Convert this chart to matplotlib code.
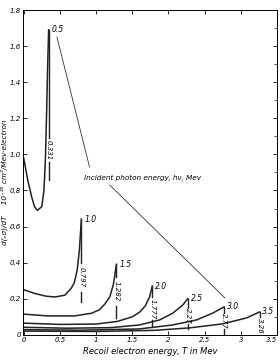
import numpy as np
from matplotlib import pyplot as plt

plt.rcParams['font.family'] = ['Liberation Sans Narrow', 'DejaVu Sans']
plt.rcParams['font.style'] = 'italic'

# 入射光子能量 (Mev)
energies = ['0.5', '1.0', '1.5', '2.0', '2.5', '3.0', '3.5']
tmax_labels = ['0.331', '0.797', '1.282', '1.777', '2.27', '2.77', '3.26']

# 各曲线
T05 = [0, 0.055, 0.11, 0.15, 0.19, 0.25, 0.28, 0.30, 0.318, 0.33, 0.345]
Y05 = [0.98, 0.86, 0.765, 0.71, 0.69, 0.71, 0.80, 0.97, 1.25, 1.47, 1.69]
T10 = [0, 0.15, 0.3, 0.43, 0.57, 0.66, 0.70, 0.74, 0.77, 0.797]
Y10 = [0.25, 0.23, 0.215, 0.21, 0.22, 0.26, 0.29, 0.36, 0.47, 0.64]
T15 = [0, 0.33, 0.7, 0.94, 1.05, 1.12, 1.19, 1.24, 1.282]
Y15 = [0.115, 0.105, 0.105, 0.12, 0.14, 0.17, 0.21, 0.28, 0.39]
T20 = [0, 0.5, 1.0, 1.3, 1.5, 1.6, 1.68, 1.74, 1.777]
Y20 = [0.065, 0.058, 0.06, 0.075, 0.10, 0.125, 0.16, 0.21, 0.27]
T25 = [0, 0.6, 1.2, 1.6, 1.88, 2.06, 2.2, 2.267]
Y25 = [0.042, 0.037, 0.04, 0.055, 0.083, 0.12, 0.166, 0.20]
T30 = [0, 0.8, 1.6, 2.06, 2.39, 2.61, 2.77]
Y30 = [0.029, 0.026, 0.033, 0.055, 0.083, 0.12, 0.155]
T35 = [0, 1.0, 1.8, 2.3, 2.75, 3.08, 3.26]
Y35 = [0.021, 0.019, 0.025, 0.039, 0.061, 0.094, 0.127]

curves = [(T05, Y05), (T10, Y10), (T15, Y15), (T20, Y20),
          (T25, Y25), (T30, Y30), (T35, Y35)]

# 竖线: 断开处 (上端, 下端) 和底端
gap_top = [1.09, 0.40, 0.32, 0.21, 0.15, 0.12, 0.10]
gap_bot = [0.96, 0.24, 0.16, 0.08, 0.06, 0.03, 0.0]
line_end = [0.86, 0.18, 0.095, 0.045, 0.03, 0.0, 0.0]

fig = plt.figure(figsize=(2.8, 3.64), dpi=100)
ax = fig.add_axes([0.082, 0.08, 0.907, 0.8925])

for i, (t, y) in enumerate(curves):
    ax.plot(t, y, color='#222222', lw=1.1)
    tm = t[-1]
    ax.plot([tm, tm], [y[-1], gap_top[i]], color='#222222', lw=1.0)
    if line_end[i] < gap_bot[i]:
        ax.plot([tm, tm], [gap_bot[i], line_end[i]], color='#222222', lw=1.0)
    ax.text(tm, (gap_top[i] + gap_bot[i]) / 2, tmax_labels[i], rotation=-90,
            ha='center', va='center', fontsize=5)
    ax.text(tm + 0.04, y[-1], energies[i], ha='left', va='center', fontsize=5.5)

ax.text(0.84, 0.87, u'Incident photon energy, hν, Mev', fontsize=5.2,
        ha='left', va='center')
ax.plot([0.46, 0.91], [1.65, 0.93], color='#333333', lw=0.6)
ax.plot([1.19, 2.78], [0.83, 0.205], color='#333333', lw=0.6)

ax.set_xlim(-0.01, 3.5)
ax.set_ylim(0, 1.8)
ax.set_xticks([0, 0.5, 1, 1.5, 2, 2.5, 3, 3.5])
ax.set_xticklabels(['0', '0.5', '1', '1.5', '2', '2.5', '3', '3.5'])
ax.get_xticklabels()[-1].set_ha('right')
ax.set_yticks(np.arange(0, 1.81, 0.2))
ax.set_yticklabels(['0', '0.2', '0.4', '0.6', '0.8', '1.0', '1.2', '1.4', '1.6', '1.8'])
ax.set_yticks(np.arange(0, 1.81, 0.1), minor=True)
ax.tick_params(direction='in', labelsize=5, length=3, width=0.6,
               top=True, right=True, pad=1.5)
ax.tick_params(which='minor', direction='in', length=2, width=0.5,
               left=False, right=True)
for s in ax.spines.values():
    s.set_linewidth(0.7)

ax.set_xlabel('Recoil electron energy, T in Mev', fontsize=6, labelpad=3)
ax.set_ylabel(u'd(ₑσ)/dT     10⁻²⁵ cm²/Mev·electron', fontsize=5.2)
ax.yaxis.set_label_coords(-0.058, 0.47)

plt.savefig('out.png', dpi=100)
